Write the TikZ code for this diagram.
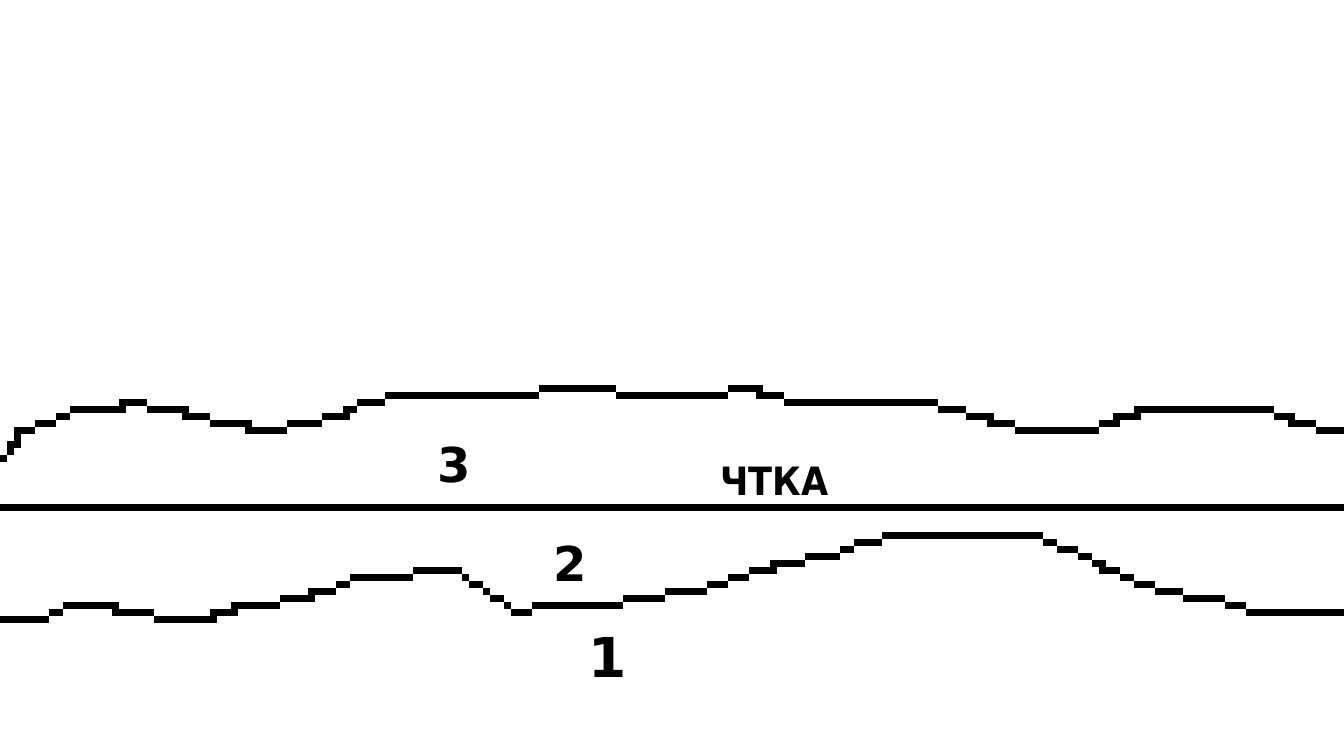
\documentclass[tikz,border=0pt]{standalone}
\usepackage{fontspec}
\newfontfamily\cellfont{DejaVu Sans}
\usetikzlibrary{positioning}
\definecolor{ink}{HTML}{000000}

\begin{document}
\begin{tikzpicture}[x=7pt, y=-7pt,
    every node/.style={text=ink, inner sep=0pt},
    cell/.style={fill=ink},
    digit/.style={font=\cellfont\bfseries\fontsize{48}{48}\selectfont},
    word/.style={font=\cellfont\bfseries\fontsize{39}{39}\selectfont, xscale=0.9}
]

% ---------------- canvas (192 x 107.43 cells of 7px), white ----------------
\fill[white] (0,0) rectangle (192,107.43);
\useasboundingbox (0,0) rectangle (192,107.43);

% ---------------- upper boundary of layer 3 ----------------
\foreach \a/\b/\r in {0/1/65, 1/2/64, 1/3/63, 2/3/62, 2/5/61, 5/8/60, 8/10/59,
    10/18/58, 17/21/57, 21/27/58, 26/30/59, 30/36/60, 35/41/61, 41/46/60,
    46/50/59, 49/51/58, 51/55/57, 55/77/56, 77/88/55, 88/104/56, 104/109/55,
    108/112/56, 112/134/57, 134/138/58, 138/142/59, 141/145/60, 145/157/61,
    157/160/60, 159/163/59, 162/182/58, 182/185/59, 184/188/60, 188/192/61}
    \fill[cell] (\a,\r) rectangle (\b,\r+1);

% ---------------- straight horizon ----------------
\fill[cell] (0,72) rectangle (192,73);

% ---------------- boundary between layers 2 and 1 ----------------
\foreach \a/\b/\r in {0/7/88, 7/9/87, 9/17/86, 16/22/87, 22/31/88, 30/34/87,
    33/40/86, 40/45/85, 44/48/84, 48/50/83, 50/59/82, 59/66/81, 66/67/82,
    67/69/83, 69/70/84, 70/72/85, 72/73/86, 73/76/87, 76/89/86, 89/95/85,
    95/101/84, 101/104/83, 104/107/82, 107/111/81, 110/115/80, 115/120/79,
    120/122/78, 122/126/77, 126/149/76, 149/151/77, 151/154/78, 154/156/79,
    156/158/80, 157/160/81, 160/162/82, 162/165/83, 165/169/84, 169/175/85,
    175/178/86, 178/192/87}
    \fill[cell] (\a,\r) rectangle (\b,\r+1);

% ---------------- labels ----------------
\node[digit] (three) at (64.9,66.4) {3};
\node[word] (word) at (110.6,68.8) {ЧТКА};
\node[digit] (two) at (81.5,80.5) {2};
\node[digit, font=\cellfont\bfseries\fontsize{55}{55}\selectfont] (one) at (86.8,93.9) {1};

\end{tikzpicture}
\end{document}
